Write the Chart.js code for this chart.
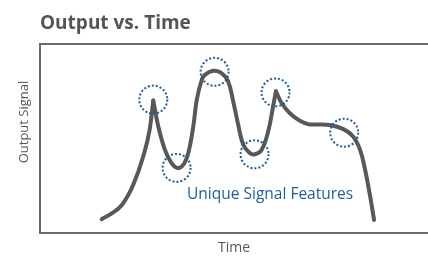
<!DOCTYPE html>
<html>
<head>
<meta charset="utf-8">
<script src="https://cdn.jsdelivr.net/npm/chart.js@4/dist/chart.umd.min.js"></script>
<style>
html,body{margin:0;padding:0;background:#fff;}
#wrap{width:428px;height:256px;position:relative;}
</style>
</head>
<body>
<div id="wrap"><canvas id="c"></canvas></div>
<script>
// Signal curve, split at the two sharp peaks (time, output)
const riseTime   = [15.9, 18.5, 21.1, 24.0, 26.6, 28.3, 29.2];
const riseSignal = [7.3, 10.4, 14.8, 25.4, 40.4, 55.0, 70.0];

const midTime   = [29.2, 30.5, 32.2, 33.9, 35.4, 36.9, 38.2, 39.5, 40.4, 41.7, 42.5, 44.7, 46.8, 48.5, 49.8, 51.1, 52.4, 54.1, 55.4, 57.1, 58.8, 60.0, 60.8];
const midSignal = [70.0, 56.2, 43.9, 36.9, 34.4, 36.0, 42.2, 56.2, 70.4, 81.0, 83.6, 85.7, 84.5, 80.1, 69.5, 57.1, 46.6, 42.2, 41.6, 43.9, 53.6, 66.0, 74.9];

const tailTime   = [60.8, 62.3, 64.4, 67.0, 69.2, 71.3, 74.7, 78.2, 80.7, 82.5, 83.8, 85.1, 86.1];
const tailSignal = [74.9, 68.6, 63.3, 59.3, 57.5, 57.4, 57.1, 54.9, 51.0, 43.9, 33.3, 19.2, 6.9];

// Highlighted features (dotted circles)
const featureTime   = [29.2, 35.2, 45.0, 55.3, 60.7, 78.4];
const featureSignal = [70.5, 34.4, 85.2, 41.6, 74.3, 53.0];

const titleText = 'Output vs. Time';
const xLabel = 'Time';
const yLabel = 'Output Signal';
const noteText = 'Unique Signal Features';
const notePos = [37.9, 18.0];

const pts = (xs, ys) => xs.map((x, i) => ({x, y: ys[i]}));
const curveColor = '#585858';
const blue = '#1f5c9c';

const lineStyle = {
  borderColor: curveColor, borderWidth: 4, pointRadius: 0,
  tension: 0.4, fill: false,
  borderCapStyle: 'round', borderJoinStyle: 'round'
};

const overlay = {
  id: 'overlay',
  afterDatasetsDraw(chart) {
    const {ctx, scales: {x, y}} = chart;
    ctx.save();
    ctx.strokeStyle = blue;
    ctx.lineWidth = 2;
    ctx.setLineDash([2, 2]);
    featureTime.forEach((t, i) => {
      ctx.beginPath();
      ctx.arc(x.getPixelForValue(t), y.getPixelForValue(featureSignal[i]), 14, 0, Math.PI * 2);
      ctx.stroke();
    });
    ctx.setLineDash([]);
    ctx.fillStyle = blue;
    ctx.font = '15.5px "Open Sans"';
    ctx.textBaseline = 'alphabetic';
    ctx.fillText(noteText, x.getPixelForValue(notePos[0]), y.getPixelForValue(notePos[1]));
    // y axis label
    ctx.fillStyle = '#555';
    ctx.font = '13px "Open Sans"';
    ctx.translate(28, 122);
    ctx.rotate(-Math.PI / 2);
    ctx.textAlign = 'center';
    ctx.fillText(yLabel, 0, 0);
    ctx.restore();
  }
};

new Chart(document.getElementById('c'), {
  type: 'line',
  data: {
    datasets: [
      {data: pts(riseTime, riseSignal), ...lineStyle, cubicInterpolationMode: 'monotone'},
      {data: pts(midTime, midSignal), ...lineStyle},
      {data: pts(tailTime, tailSignal), ...lineStyle}
    ]
  },
  options: {
    responsive: true, maintainAspectRatio: false, animation: false,
    layout: {padding: {left: 40, right: 0, top: 12, bottom: 0}},
    plugins: {
      legend: {display: false}, tooltip: {enabled: false},
      title: {
        display: true, text: titleText, align: 'start', color: '#555',
        font: {family: '"Open Sans"', size: 19, weight: 'bold', lineHeight: 1.2},
        padding: {top: 0, bottom: 9}
      }
    },
    scales: {
      x: {
        type: 'linear', min: 0, max: 100,
        grid: {display: false}, ticks: {display: false},
        border: {display: true, color: '#6a6a6a', width: 2},
        title: {display: true, text: xLabel, color: '#555', font: {family: '"Open Sans"', size: 14}, padding: {top: 7, bottom: 0}},
        afterFit(s) { s.height = 23; }
      },
      xTop: {
        type: 'linear', position: 'top', min: 0, max: 100,
        grid: {display: false}, ticks: {display: false},
        border: {display: true, color: '#6a6a6a', width: 2},
        afterFit(s) { s.height = 0; }
      },
      y: {
        min: 0, max: 100,
        grid: {display: false}, ticks: {display: false},
        border: {display: true, color: '#6a6a6a', width: 2},
        afterFit(s) { s.width = 0; }
      }
    }
  },
  plugins: [overlay]
});
</script>
</body>
</html>
